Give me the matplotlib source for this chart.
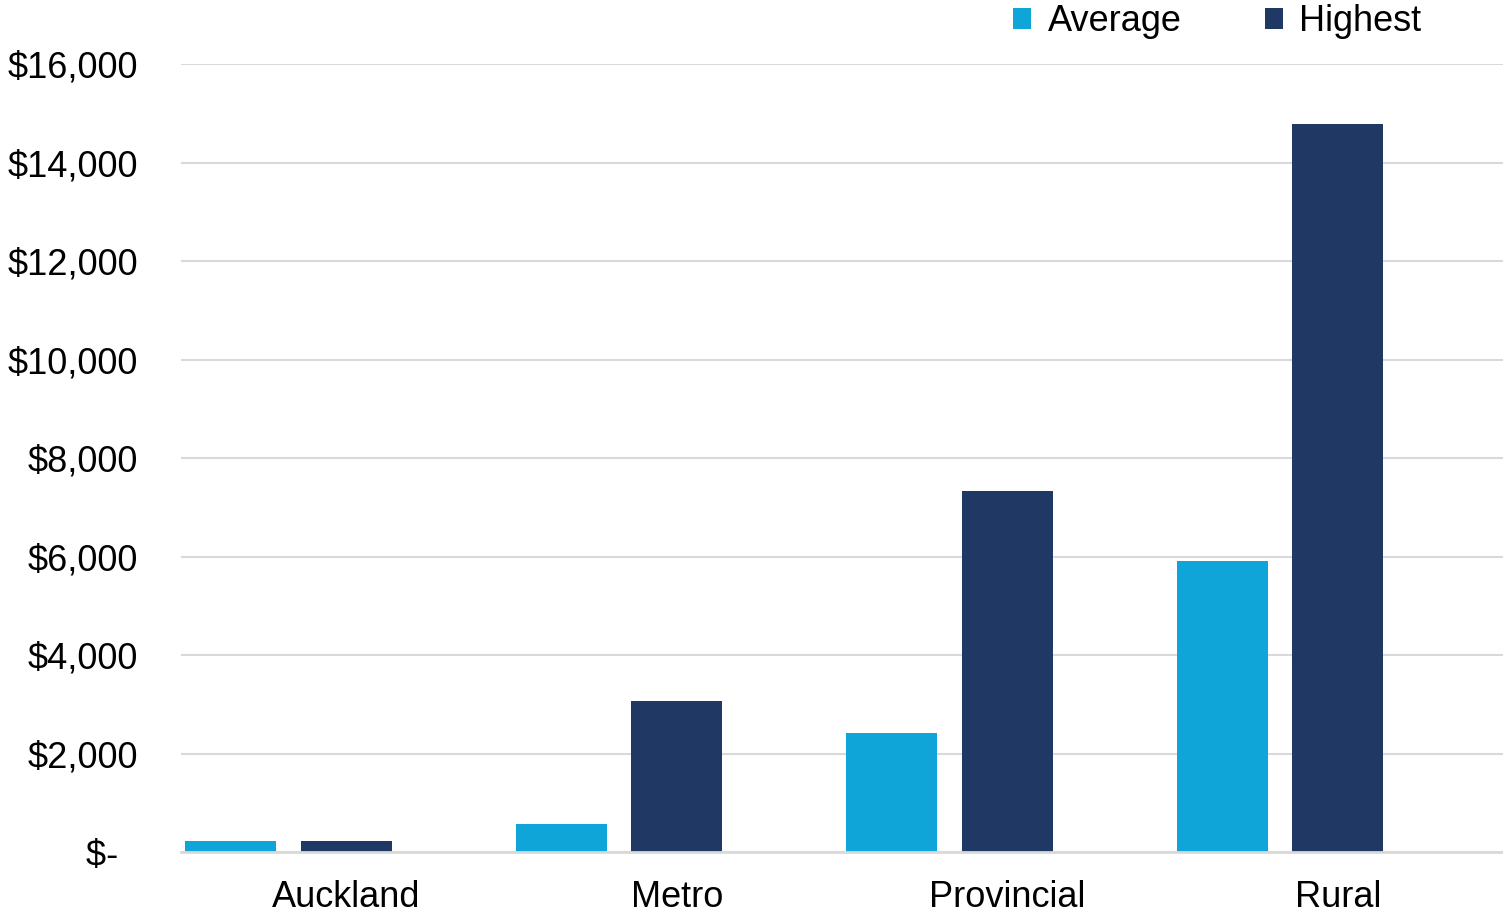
import matplotlib
matplotlib.use("Agg")
import matplotlib.pyplot as plt
import numpy as np
from matplotlib.ticker import FixedLocator

categories = ["Auckland", "Metro", "Provincial", "Rural"]
average = [220, 560, 2410, 5910]
highest = [220, 3060, 7320, 14780]
yticks = [0, 2000, 4000, 6000, 8000, 10000, 12000, 14000, 16000]
ytick_labels = ["$-  ", "$2,000", "$4,000", "$6,000", "$8,000", "$10,000",
                "$12,000", "$14,000", "$16,000"]

plt.rcParams['font.family'] = ['Liberation Sans', 'DejaVu Sans']

fig = plt.figure(figsize=(15.03, 9.13), dpi=100)
ax = fig.add_axes([181/1503, 1-852/913, 1-181/1503, (852-64)/913])

x = np.arange(len(categories))
w = 0.275
off = 0.349
c_avg = "#0FA5D8"
c_high = "#203864"
ax.bar(x - off, average, width=w, color=c_avg, label="Average", zorder=3)
ax.bar(x, highest, width=w, color=c_high, label="Highest", zorder=3)

ax.set_xlim(-0.5, 3.5)
ax.set_ylim(0, 16000)
ax.yaxis.set_major_locator(FixedLocator(yticks))
ax.set_yticklabels(ytick_labels)
ax.set_xticks(x)
ax.set_xticklabels(categories)
ax.tick_params(axis='y', length=0, pad=31, labelsize=26)
ax.tick_params(axis='x', length=0, pad=20.5, labelsize=26)
ax.grid(axis='y', color="#D9D9D9", linewidth=1.5, zorder=0)
for s in ['left', 'right', 'top']:
    ax.spines[s].set_visible(False)
ax.spines['bottom'].set_color("#D9D9D9")
ax.spines['bottom'].set_linewidth(2)
ax.spines['bottom'].set_zorder(4)

leg = fig.legend(loc='upper right', bbox_to_anchor=(1436/1503, 1.011), ncol=2,
                 frameon=False, fontsize=26, handlelength=0.5, handleheight=0.5,
                 handletextpad=0.45, columnspacing=2.32, borderaxespad=0)

fig.savefig("out.png", dpi=100)
